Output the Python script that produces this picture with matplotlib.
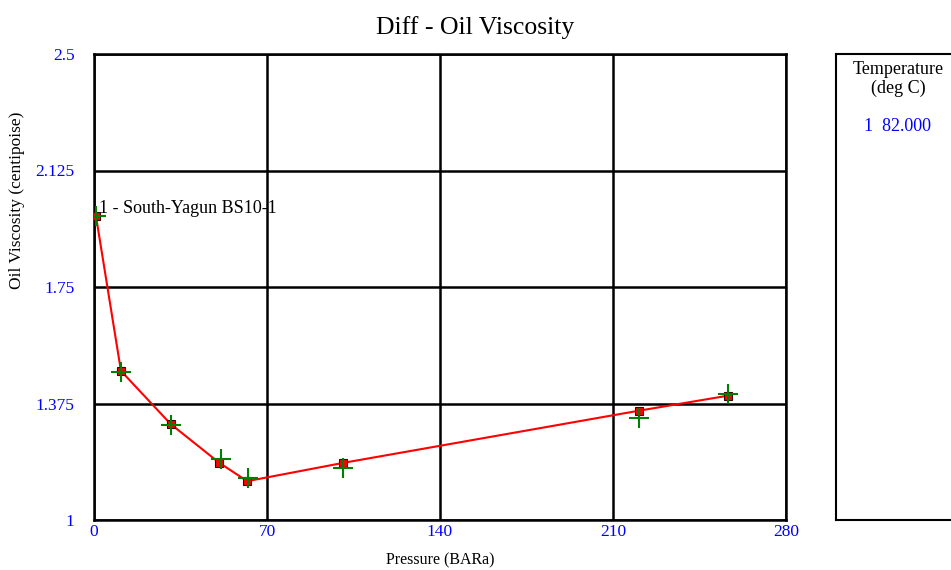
import matplotlib.pyplot as plt

plt.rcParams['font.family'] = ['Liberation Serif', 'DejaVu Serif']

# calculated (line + red squares)
calc_p = [0.8, 10.9, 31.0, 50.7, 62.0, 100.9, 220.6, 256.4]
calc_visc = [1.978, 1.480, 1.309, 1.184, 1.125, 1.184, 1.352, 1.400]
# observed (green crosses)
obs_p = [0.8, 10.9, 31.0, 51.3, 62.5, 100.9, 220.6, 256.6]
obs_visc = [1.978, 1.478, 1.306, 1.195, 1.135, 1.166, 1.327, 1.405]

xticks = [0, 70, 140, 210, 280]
yticks = [1, 1.375, 1.75, 2.125, 2.5]
ytick_labels = ["1", "1.375", "1.75", "2.125", "2.5"]

fig = plt.figure(figsize=(9.51, 5.70), dpi=100)
ax = fig.add_axes([94 / 951, 50 / 570, 692 / 951, 466 / 570])

ax.plot(calc_p, calc_visc, color='red', lw=1.5, zorder=3)
ax.plot(calc_p, calc_visc, 's', ms=6, mfc='red', mec='#400000', mew=0.8, zorder=4, ls='none')
ax.plot(obs_p, obs_visc, '+', ms=15, mec='green', mew=1.5, zorder=5, ls='none')

ax.set_xlim(0, 280)
ax.set_ylim(1, 2.5)
ax.set_xticks(xticks)
ax.set_yticks(yticks)
ax.set_yticklabels(ytick_labels)
ax.grid(True, color='black', lw=1.8)
for s in ax.spines.values():
    s.set_linewidth(1.8)
ax.tick_params(length=0, colors='blue', labelsize=12.5)
ax.tick_params(axis='y', pad=14)
ax.tick_params(axis='x', pad=3)

ax.set_xlabel("Pressure (BARa)", fontsize=11.5, labelpad=9)
ax.set_ylabel("Oil Viscosity (centipoise)", fontsize=12.5)
ax.yaxis.set_label_coords(-0.1, 0.687)
fig.suptitle("Diff - Oil Viscosity", fontsize=18.5, y=0.972)

ax.text(2, 1.975, "1 - South-Yagun BS10-1", fontsize=13, ha='left', va='bottom', zorder=6)

# legend panel
lax = fig.add_axes([836 / 951, 50 / 570, 140 / 951, 466 / 570])
lax.set_xticks([])
lax.set_yticks([])
for s in lax.spines.values():
    s.set_linewidth(1.5)
lax.text(62 / 140, 0.985, "Temperature\n(deg C)", transform=lax.transAxes,
         ha='center', va='top', fontsize=13, linespacing=1.1)
lax.text(62 / 140, 0.845, "1  82.000", transform=lax.transAxes,
         ha='center', va='center', fontsize=13, color='blue')

fig.savefig("out.png", dpi=100)
